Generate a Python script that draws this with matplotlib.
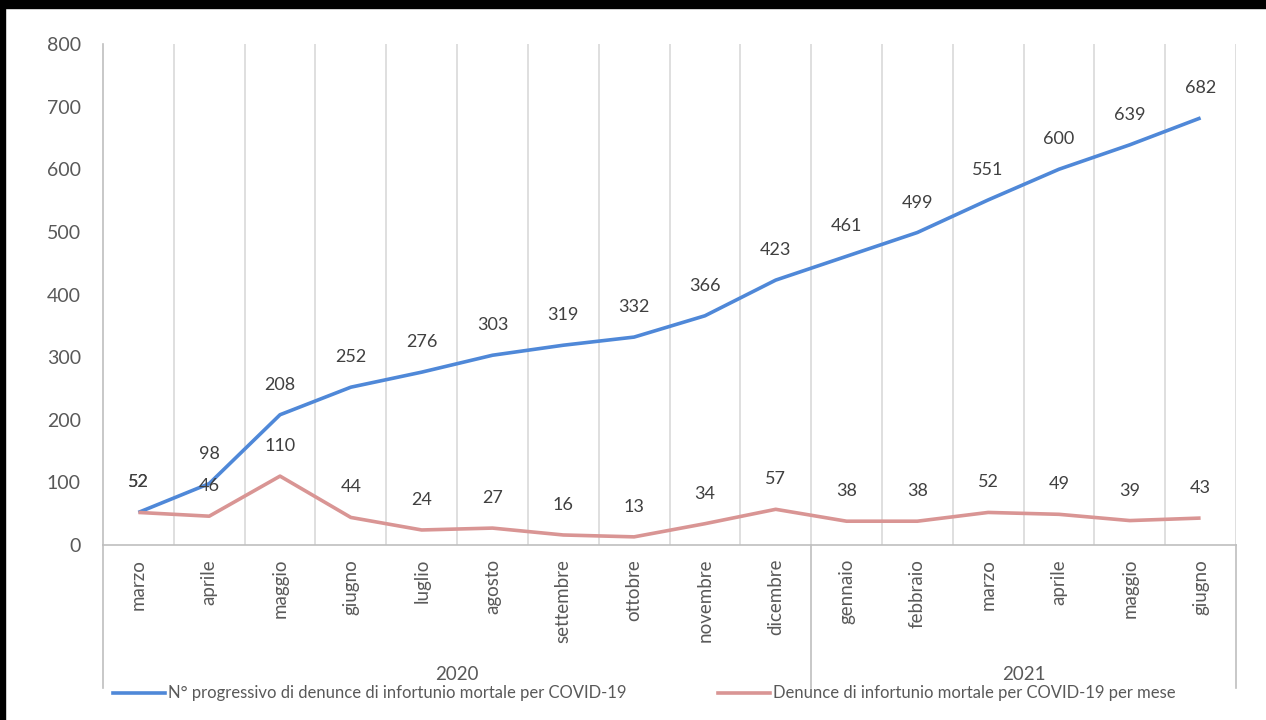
import matplotlib
matplotlib.use("Agg")
import matplotlib.pyplot as plt
from matplotlib.lines import Line2D
from matplotlib.patches import Rectangle

plt.rcParams['font.family'] = ['Lato', 'DejaVu Sans']

months = ["marzo", "aprile", "maggio", "giugno", "luglio", "agosto", "settembre",
          "ottobre", "novembre", "dicembre", "gennaio", "febbraio", "marzo",
          "aprile", "maggio", "giugno"]
years = ["2020", "2021"]
year_counts = [10, 6]
cumulative = [52, 98, 208, 252, 276, 303, 319, 332, 366, 423, 461, 499, 551, 600, 639, 682]
monthly = [52, 46, 110, 44, 24, 27, 16, 13, 34, 57, 38, 38, 52, 49, 39, 43]
series_names = ["N° progressivo di denunce di infortunio mortale per COVID-19",
                "Denunce di infortunio mortale per COVID-19 per mese"]
yticks = [0, 100, 200, 300, 400, 500, 600, 700, 800]

W, H = 1266, 720
fig = plt.figure(figsize=(W / 100, H / 100), dpi=100)
fig.patch.set_facecolor("white")

def fx(px):
    return px / W

def fy(py):
    return 1 - py / H

L, R, T, B = 103, 1236, 44, 545
ax = fig.add_axes([fx(L), fy(B), fx(R) - fx(L), fy(T) - fy(B)])

blue = "#4F88D8"
pink = "#D99594"
txt = "#404040"
axis_txt = "#595959"
grid_c = "#D9D9D9"
axis_c = "#BFBFBF"

x = list(range(len(months)))
ax.plot(x, cumulative, color=blue, lw=2.6, solid_capstyle="butt", solid_joinstyle="round", zorder=3)
ax.plot(x, monthly, color=pink, lw=2.6, solid_capstyle="butt", solid_joinstyle="round", zorder=3)

for xi, v in zip(x, cumulative):
    ax.annotate(str(v), (xi, v), xytext=(0, 21.6), textcoords="offset points",
                ha="center", va="center", fontsize=13, color=txt, zorder=4)
for xi, v in zip(x, monthly):
    ax.annotate(str(v), (xi, v), xytext=(0, 21.6), textcoords="offset points",
                ha="center", va="center", fontsize=13, color=txt, zorder=4)

ax.set_xlim(-0.5, len(months) - 0.5)
ax.set_ylim(0, 800)
ax.set_yticks(yticks)
ax.set_yticklabels([str(t) for t in yticks], fontsize=14, color=axis_txt)
ax.tick_params(axis="y", length=0, pad=16)
ax.set_xticks(x)
ax.set_xticklabels(months, rotation=90, fontsize=13.5, color=axis_txt, va="top")
ax.tick_params(axis="x", length=0, pad=10)
ax.set_xticks([i - 0.5 for i in range(1, len(months) + 1)], minor=True)
ax.tick_params(axis="x", which="minor", length=0)
ax.grid(True, axis="x", which="minor", color=grid_c, lw=1.2, zorder=0)
ax.grid(False, axis="y")
for s in ["top", "right"]:
    ax.spines[s].set_visible(False)
ax.spines["left"].set_color(axis_c)
ax.spines["bottom"].set_color(axis_c)
ax.spines["left"].set_linewidth(1.2)
ax.spines["bottom"].set_linewidth(1.2)

# multi-level category separators
step = (R - L) / len(months)
bounds = [0]
for c in year_counts:
    bounds.append(bounds[-1] + c)
for b in bounds:
    xp = L + b * step
    fig.add_artist(Line2D([fx(xp), fx(xp)], [fy(B), fy(688)], color=axis_c, lw=1.2))
for i, yname in enumerate(years):
    xc = L + (bounds[i] + bounds[i + 1]) / 2 * step
    fig.text(fx(xc), fy(675), yname, ha="center", va="center", fontsize=13.5, color=axis_txt)

# legend
leg_y = fy(693)
fig.add_artist(Line2D([fx(113), fx(165)], [leg_y, leg_y], color=blue, lw=2.6))
fig.text(fx(168), leg_y, series_names[0], ha="left", va="center", fontsize=12, color=axis_txt)
fig.add_artist(Line2D([fx(718), fx(770)], [leg_y, leg_y], color=pink, lw=2.6))
fig.text(fx(773), leg_y, series_names[1], ha="left", va="center", fontsize=12, color=axis_txt)

# black frame (top bar and left border)
fig.add_artist(Rectangle((0, fy(8)), 1, 1 - fy(8), transform=fig.transFigure,
                         color="black", zorder=10))
fig.add_artist(Rectangle((0, 0), fx(5), 1, transform=fig.transFigure,
                         color="black", zorder=10))

fig.savefig("out.png", dpi=100, facecolor="white")
